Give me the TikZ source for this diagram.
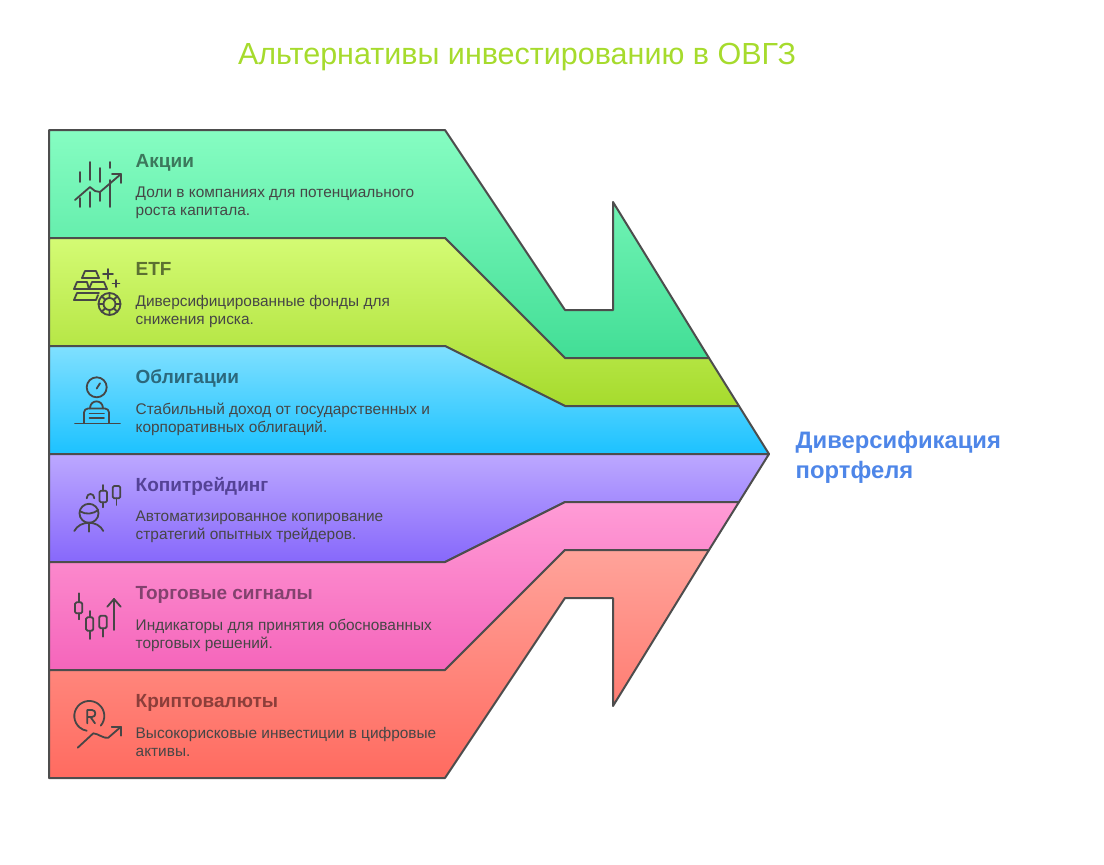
\documentclass[tikz,border=0pt]{standalone}
\usepackage{fontspec}
\setmainfont{Liberation Sans}
\usetikzlibrary{arrows.meta, positioning}
\definecolor{edgegray}{RGB}{77,77,77}
\definecolor{icongray}{RGB}{70,70,70}
\definecolor{bodygray}{RGB}{70,70,70}
\definecolor{titlegreen}{RGB}{166,219,45}
\definecolor{sideblue}{RGB}{78,134,232}

\tikzset{
  band/.style={draw=edgegray, line width=2pt, line join=round},
  icon/.style={draw=icongray, line width=1.8pt, line cap=round, line join=round},
  heading/.style={anchor=west, inner sep=0pt, text height=14pt, text depth=4pt, font=\fontsize{19}{23}\selectfont\bfseries},
  bodytext/.style={anchor=north west, inner sep=0pt, align=left, text=bodygray, font=\fontsize{15.4}{18}\selectfont, execute at begin node=\strut},
}

\begin{document}
\begin{tikzpicture}[x=1pt, y=-1pt]
\useasboundingbox (0,0) rectangle (1104,865);

% Title
\node[anchor=center, inner sep=0pt, text=titlegreen, font=\fontsize{30.5}{36}\selectfont] (title) at (517,57) {Альтернативы инвестированию в ОВГЗ};

% Bands
\shadedraw[band, top color={rgb,255:red,134;green,253;blue,194}, bottom color={rgb,255:red,66;green,222;blue,150}]
  (49,130) -- (445,130) -- (565,310) -- (613,310) -- (613,202) -- (709,358) -- (565,358) -- (445,238) -- (49,238) -- cycle;
\shadedraw[band, top color={rgb,255:red,212;green,251;blue,116}, bottom color={rgb,255:red,166;green,219;blue,45}]
  (49,238) -- (445,238) -- (565,358) -- (709,358) -- (739,406) -- (565,406) -- (445,346) -- (49,346) -- cycle;
\shadedraw[band, top color={rgb,255:red,128;green,224;blue,255}, bottom color={rgb,255:red,28;green,194;blue,255}]
  (49,346) -- (445,346) -- (565,406) -- (739,406) -- (769,454) -- (49,454) -- cycle;
\shadedraw[band, top color={rgb,255:red,188;green,168;blue,255}, bottom color={rgb,255:red,135;green,104;blue,251}]
  (49,454) -- (769,454) -- (739,502) -- (565,502) -- (445,562) -- (49,562) -- cycle;
\shadedraw[band, top color={rgb,255:red,255;green,156;blue,214}, bottom color={rgb,255:red,245;green,101;blue,187}]
  (49,562) -- (445,562) -- (565,502) -- (739,502) -- (709,550) -- (565,550) -- (445,670) -- (49,670) -- cycle;
\shadedraw[band, top color={rgb,255:red,255;green,163;blue,154}, bottom color={rgb,255:red,255;green,107;blue,96}]
  (49,670) -- (445,670) -- (565,550) -- (709,550) -- (613,706) -- (613,598) -- (565,598) -- (445,778) -- (49,778) -- cycle;

% Aktsii
\node[heading, text={rgb,255:red,60;green,120;blue,92}] (aktsii) at (135.5,162) {Акции};
\node[bodytext, below=15.5pt of aktsii.south west, anchor=north west] (aktsiitext) {Доли в компаниях для потенциального\\роста капитала.};
\draw[icon] (80,172) -- (80,182) (80,198) -- (80,207) (90,162) -- (90,180) (90,192) -- (90,207)
  (100,168) -- (100,182) (100,192) -- (100,201) (110,162) -- (110,168) (110,180) -- (110,207);
\draw[icon] (75,200) -- (90,187) -- (95,191) -- (100,192) -- (121,174);
\draw[icon] (112,174) -- (121,174) -- (121,183);

% ETF
\node[heading, text={rgb,255:red,92;green,112;blue,50}] (etf) at (135.5,270) {ETF};
\node[bodytext, below=15.5pt of etf.south west, anchor=north west] (etftext) {Диверсифицированные фонды для\\снижения риска.};
\draw[icon] (82,278) -- (99,278) -- (96,271) -- (85,271) -- cycle;
\draw[icon] (74,289) -- (89,289) -- (87,282) -- (77,282) -- cycle;
\draw[icon] (89,289) -- (107,289) -- (104,282) -- (92,282) -- cycle;
\draw[icon] (99,293) -- (77,293) -- (74,300) -- (96,300) -- (98,295);
\draw[icon] (108,269) -- (108,279) (103,274) -- (113,274) (116,280) -- (116,287) (112.5,283.5) -- (119.5,283.5);
\draw[icon] (109.5,304) circle[radius=11pt] (109.5,304) circle[radius=6pt];
\draw[icon] (109.5,293) -- (109.5,298) (109.5,310) -- (109.5,315) (98.5,304) -- (103.5,304) (115.5,304) -- (120.5,304)
  (101.7,296.2) -- (105.3,299.8) (113.7,308.2) -- (117.3,311.8) (101.7,311.8) -- (105.3,308.2) (113.7,299.8) -- (117.3,296.2);

% Obligatsii
\node[heading, text={rgb,255:red,44;green,104;blue,124}] (obligatsii) at (135.5,378) {Облигации};
\node[bodytext, below=15.5pt of obligatsii.south west, anchor=north west] (obligatsiitext) {Стабильный доход от государственных и\\корпоративных облигаций.};
\draw[icon] (96.7,387.3) circle[radius=10pt];
\draw[icon] (96.7,388.5) -- (100,383.3);
\draw[icon, rounded corners=4pt] (84,423) -- (84,408.5) -- (109,408.5) -- (109,423);
\draw[icon] (90,408.5) .. controls (90,399) and (103,399) .. (103,408.5);
\draw[icon] (89.5,413.5) -- (104,413.5) (89.5,417.7) -- (104,417.7);
\draw[icon] (75,423.5) -- (120,423.5);

% Kopitrejding
\node[heading, text={rgb,255:red,84;green,66;blue,150}] (kopi) at (135.5,486) {Копитрейдинг};
\node[bodytext, below=15.5pt of kopi.south west, anchor=north west] (kopitext) {Автоматизированное копирование\\стратегий опытных трейдеров.};
\draw[icon, rounded corners=1.5pt] (99.5,490.7) rectangle (107,502.3);
\draw[icon] (103.3,485) -- (103.3,490.7) (103.3,502.3) -- (103.3,507.3);
\draw[icon, rounded corners=1.5pt] (112.7,486) rectangle (120.3,498.3);
\draw[icon] (116.5,498.3) -- (116.5,505);
\draw[icon] (86.7,498.3) .. controls (86.7,492.5) and (94.3,492.5) .. (94.3,498.3);
\draw[icon] (89,513.3) circle[radius=9.5pt];
\draw[icon] (80,511.3) .. controls (86,515) and (93,514) .. (98.3,510);
\draw[icon] (74.3,531) .. controls (80,520) and (98,520) .. (103.3,531);
\draw[icon] (89,522.7) -- (89,531.7);

% Torgovye signaly
\node[heading, text={rgb,255:red,130;green,66;blue,110}] (signaly) at (135.5,594) {Торговые сигналы};
\node[bodytext, below=15.5pt of signaly.south west, anchor=north west] (signalytext) {Индикаторы для принятия обоснованных\\торговых решений.};
\draw[icon, rounded corners=1.5pt] (75,602.3) rectangle (82.3,613.3);
\draw[icon] (78.6,593.3) -- (78.6,602.3) (78.6,613.3) -- (78.6,619.3);
\draw[icon, rounded corners=1.5pt] (86,617.3) rectangle (93.3,630.7);
\draw[icon] (89.7,611) -- (89.7,617.3) (89.7,630.7) -- (89.7,639);
\draw[icon, rounded corners=1.5pt] (99.3,615.7) rectangle (106.7,628.3);
\draw[icon] (103,628.3) -- (103,636.7);
\draw[icon] (114,630) -- (114,599);
\draw[icon] (107.3,606.7) -- (114,599) -- (120.7,606.7);

% Kriptovalyuty
\node[heading, text={rgb,255:red,140;green,62;blue,58}] (kripto) at (135.5,702) {Криптовалюты};
\node[bodytext, below=15.5pt of kripto.south west, anchor=north west] (kriptotext) {Высокорисковые инвестиции в цифровые\\активы.};
\draw[icon] (100.8,725.6) arc[start angle=-40, end angle=260, radius=15pt];
\draw[icon] (87.3,723.3) -- (87.3,710) -- (92,710) .. controls (96.5,710) and (96.5,717) .. (92,717) -- (87.3,717) (90.5,717) -- (95,723.3);
\draw[icon] (77.7,747.7) -- (93.3,733.3) .. controls (98,733.5) and (104,739) .. (108.3,737.7) -- (121,726.7);
\draw[icon] (111.7,726.7) -- (121,726.7) -- (121,735.7);

% Result
\node[anchor=north west, inner sep=0pt, align=left, text=sideblue, font=\fontsize{23.8}{30}\selectfont\bfseries] (result) at (795.5,431) {Диверсификация\\портфеля};

\end{tikzpicture}
\end{document}
